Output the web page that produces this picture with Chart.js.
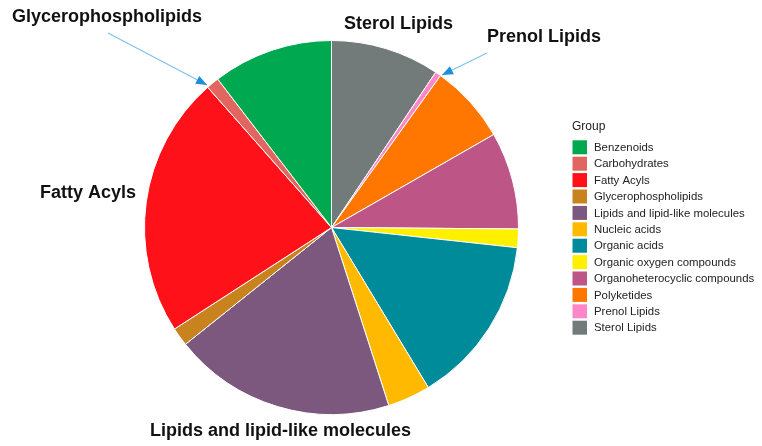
<!DOCTYPE html>
<html>
<head>
<meta charset="utf-8">
<script src="https://cdn.jsdelivr.net/npm/chart.js@4.4.1/dist/chart.umd.min.js"></script>
<style>
  body { margin: 0; background: #fff; }
  #wrap { width: 762px; height: 446px; }
</style>
</head>
<body>
<div id="wrap"><canvas id="pie" width="762" height="446"></canvas></div>
<script>
// slices clockwise from 12 o'clock (legend shows them reversed, alphabetical)
var groups = ["Sterol Lipids", "Prenol Lipids", "Polyketides", "Organoheterocyclic compounds",
  "Organic oxygen compounds", "Organic acids", "Nucleic acids", "Lipids and lipid-like molecules",
  "Glycerophospholipids", "Fatty Acyls", "Carbohydrates", "Benzenoids"];
var shares = [9.4, 0.5, 6.8, 8.4, 1.6, 14.6, 3.7, 19.2, 1.6, 22.6, 1.1, 10.4]; // percent
var groupColors = ["#737b7a", "#ff86c8", "#ff7600", "#bd5587", "#fff000", "#008b9b",
  "#ffba00", "#7d587e", "#c8821e", "#ff1119", "#e0665f", "#00a84f"];

// big labels round the pie
var callouts = [
  { text: "Glycerophospholipids", x: 12, y: 17, from: [108, 33], to: [207, 85] },
  { text: "Sterol Lipids", x: 344, y: 24 },
  { text: "Prenol Lipids", x: 487, y: 37, from: [487, 53], to: [442, 75] },
  { text: "Fatty Acyls", x: 40, y: 193 },
  { text: "Lipids and lipid-like molecules", x: 150, y: 431 }
];

function arrow(ctx, a, b) {
  ctx.save();
  ctx.strokeStyle = "#7fc0ec";
  ctx.lineWidth = 1.2;
  ctx.beginPath();
  ctx.moveTo(a[0], a[1]);
  ctx.lineTo(b[0], b[1]);
  ctx.stroke();
  var ang = Math.atan2(b[1] - a[1], b[0] - a[0]);
  ctx.fillStyle = "#1c8fd8";
  ctx.beginPath();
  ctx.moveTo(b[0], b[1]);
  ctx.lineTo(b[0] - 11 * Math.cos(ang) + 4.5 * Math.sin(ang), b[1] - 11 * Math.sin(ang) - 4.5 * Math.cos(ang));
  ctx.lineTo(b[0] - 11 * Math.cos(ang) - 4.5 * Math.sin(ang), b[1] - 11 * Math.sin(ang) + 4.5 * Math.cos(ang));
  ctx.closePath();
  ctx.fill();
  ctx.restore();
}

var extras = {
  id: "extras",
  afterDraw: function(chart) {
    var ctx = chart.ctx;
    ctx.save();
    // callouts
    ctx.fillStyle = "#111";
    ctx.font = "bold 18px 'Liberation Sans', Arial, sans-serif";
    ctx.textBaseline = "middle";
    ctx.textAlign = "left";
    callouts.forEach(function(c) {
      ctx.fillText(c.text, c.x, c.y);
      if (c.from) arrow(ctx, c.from, c.to);
    });
    // legend
    ctx.font = "12px 'Liberation Sans', Arial, sans-serif";
    ctx.fillStyle = "#222";
    ctx.fillText("Group", 572, 127);
    ctx.font = "11.4px 'Liberation Sans', Arial, sans-serif";
    var meta = chart.getDatasetMeta(0);
    for (var i = 0; i < groups.length; i++) {
      var k = groups.length - 1 - i;
      var y = 147.3 + i * 16.4;
      ctx.fillStyle = groupColors[k];
      ctx.fillRect(572.5, y - 7, 14.5, 14);
      ctx.fillStyle = "#222";
      ctx.fillText(groups[k], 594, y + 0.5);
    }
    ctx.restore();
  }
};

var ctx = document.getElementById("pie").getContext("2d");
var myChart = new Chart(ctx, {
  type: "pie",
  data: {
    labels: groups,
    datasets: [{
      data: shares,
      backgroundColor: groupColors,
      borderColor: "#ffffff",
      borderWidth: 1
    }]
  },
  options: {
    responsive: false,
    animation: false,
    layout: { padding: { left: 144, right: 243, top: 40, bottom: 31 } },
    plugins: {
      legend: { display: false },
      tooltip: { enabled: false },
      title: { display: false }
    }
  },
  plugins: [extras]
});
</script>
</body>
</html>
